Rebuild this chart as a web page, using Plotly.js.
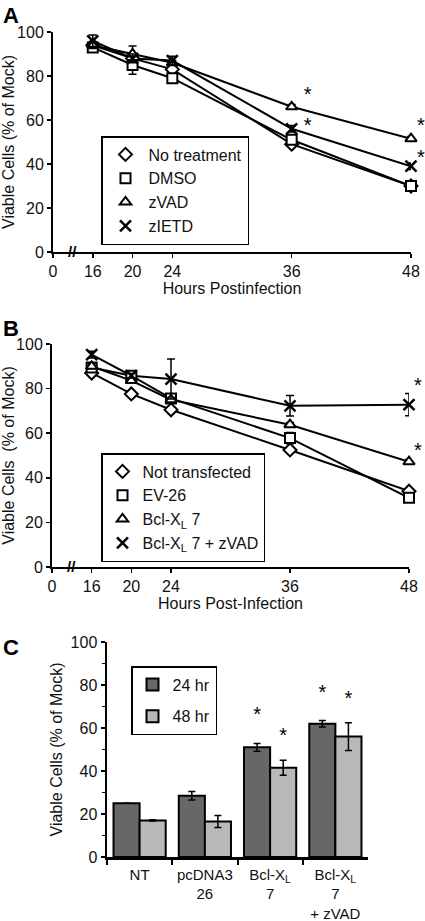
<!DOCTYPE html>
<html><head><meta charset="utf-8">
<script src="https://cdn.plot.ly/plotly-3.0.1.min.js"></script>
<style>html,body{margin:0;padding:0;background:#fff}</style>
</head><body><div id="chart" style="width:425px;height:921px"></div>
<script>
// ---------- Panel A data ----------
const hoursA = [16, 20, 24, 36, 48];
const noTreatment = [94, 88, 83, 49, 30];
const dmso = [93, 85, 79, 51, 30];
const zvad = [94, 90, 86, 66, 51.5];
const zietd = [96, 88, 87, 56, 39];
const errNoTreatment = [1, 1, 1, 1, 1];
const errDmso = [1.5, 4.2, 1, 1.5, 1];
const errZvad = [1.5, 3.6, 1, 1, 1];
const errZietd = [2.6, 2, 2, 1.5, 1.5];
const starsAx = [37.6, 37.6, 49, 49];
const starsAy = [71, 57, 57, 42.5];

// ---------- Panel B data ----------
const hoursB = [16, 20, 24, 36, 48];
const notTransfected = [87, 77.6, 70.5, 52.5, 34];
const ev26 = [89.5, 85.8, 75.6, 57.8, 31];
const bclxl7 = [90, 83.6, 75, 63.8, 47.2];
const bclxl7zvad = [95.2, 85.8, 84.3, 72.3, 72.8];
const errNotTransfected = [1, 1, 1, 1, 1];
const errEv26 = [1, 1, 1.5, 2.5, 1];
const errBclxl7 = [1, 1, 1, 1, 1];
const errBclxl7zvad = [1.5, 1, 9, 4.6, 5];
const starsBx = [48.9, 48.9];
const starsBy = [80.8, 51.4];

const hourTickVals = [12, 16, 20, 24, 36, 48];
const hourTickText = ['0', '16', '20', '24', '36', '48'];

// ---------- Panel C data ----------
const groupsC = ['NT', 'pcDNA3<br>26', 'Bcl-X<sub>L</sub><br>7', 'Bcl-X<sub>L</sub><br>7<br>+ zVAD'];
const hr24 = [25, 28.5, 51, 62];
const hr48 = [17, 16.5, 41.5, 56];
const err24 = [0, 2, 1.8, 1.5];
const err48 = [0.3, 2.8, 3.5, 6.5];
const starsCgroup = [2, 2, 3, 3];
const starsCseries = [0, 1, 0, 1];
const starsCy = [65.5, 56, 76, 73];

const FONT = 'Liberation Sans, Arial, Helvetica, sans-serif';
const TXT = '#111';

function lineTrace(x, y, xa, ya) {
  return {x: x, y: y, xaxis: xa, yaxis: ya, mode: 'lines', showlegend: false,
    line: {color: '#000', width: 2}, hoverinfo: 'skip', cliponaxis: false};
}
function markerTrace(name, x, y, err, symbol, xa, ya, legend) {
  const isX = symbol === 'x-thin';
  return {x: x, y: y, xaxis: xa, yaxis: ya, mode: 'markers', name: name, legend: legend,
    cliponaxis: false,
    error_y: {type: 'data', array: err, visible: true, color: '#000', thickness: 1.5, width: 4},
    marker: {symbol: symbol, size: isX ? 11 : 10, color: '#fff',
      line: {color: '#000', width: isX ? 2.5 : 2}}};
}
function starTrace(x, y, xa, ya) {
  return {x: x, y: y, xaxis: xa, yaxis: ya, mode: 'text', text: x.map(() => '*'),
    textposition: 'middle center', textfont: {family: FONT, size: 20, color: '#000'},
    showlegend: false, cliponaxis: false, hoverinfo: 'skip'};
}

const seriesA = [[noTreatment, errNoTreatment, 'No treatment', 'diamond'],
 [dmso, errDmso, 'DMSO', 'square'],
 [zvad, errZvad, 'zVAD', 'triangle-up'],
 [zietd, errZietd, 'zIETD', 'x-thin']];
const seriesB = [[notTransfected, errNotTransfected, 'Not transfected', 'diamond'],
 [ev26, errEv26, 'EV-26', 'square'],
 [bclxl7, errBclxl7, 'Bcl-X<sub>L</sub> 7', 'triangle-up'],
 [bclxl7zvad, errBclxl7zvad, 'Bcl-X<sub>L</sub> 7 + zVAD', 'x-thin']];

const traces = [];
// Panel A
seriesA.forEach(s => traces.push(lineTrace(hoursA, s[0], 'x', 'y')));
seriesA.forEach(s => traces.push(markerTrace(s[2], hoursA, s[0], s[1], s[3], 'x', 'y', 'legend')));
traces.push(starTrace(starsAx, starsAy, 'x5', 'y'));
// Panel B
seriesB.forEach(s => traces.push(lineTrace(hoursB, s[0], 'x2', 'y2')));
seriesB.forEach(s => traces.push(markerTrace(s[2], hoursB, s[0], s[1], s[3], 'x2', 'y2', 'legend2')));
traces.push(starTrace(starsBx, starsBy, 'x6', 'y2'));
// Panel C
traces.push({type: 'bar', x: groupsC, y: hr24, name: '24 hr', xaxis: 'x3', yaxis: 'y3',
  legend: 'legend3', legendgroup: 'g24',
  marker: {color: '#676767', line: {color: '#000', width: 2}},
  error_y: {type: 'data', array: err24, visible: true, color: '#000', thickness: 1.5, width: 3.5}});
traces.push({type: 'bar', x: groupsC, y: hr48, name: '48 hr', xaxis: 'x3', yaxis: 'y3',
  legend: 'legend3', legendgroup: 'g48',
  marker: {color: '#b9b9b9', line: {color: '#000', width: 2}},
  error_y: {type: 'data', array: err48, visible: true, color: '#000', thickness: 1.5, width: 3.5}});
const starsCx = starsCgroup.map((g, i) => g + (starsCseries[i] === 0 ? -0.2 : 0.2));
traces.push(starTrace(starsCx, starsCy, 'x4', 'y3'));

const W = 425, H = 921;
const px = (a, b) => [a / W, b / W];
const py = (top, bottom) => [1 - bottom / H, 1 - top / H];

// wider invisible axes (same scale) so the asterisks right of 48 h are drawn
const aL = 53, aR = 411, bL = 52, bR = 409, extR = 424;
const extRange = (l, r) => [12, 12 + (extR - l) * 36 / (r - l)];

const baseAxis = {showline: true, linecolor: '#000', linewidth: 2, ticks: 'outside', ticklen: 4,
  tickwidth: 1.5, tickcolor: '#000', showgrid: false, zeroline: false,
  tickfont: {family: FONT, size: 16, color: TXT}};
const titleFont = {family: FONT, size: 16, color: TXT};

const legendBase = {font: {family: FONT, size: 16, color: TXT}, bgcolor: '#fff',
  bordercolor: '#000', borderwidth: 1.5, xanchor: 'left', yanchor: 'top', itemclick: false};

const layout = {
  width: W, height: H, margin: {l: 0, r: 0, t: 0, b: 0},
  paper_bgcolor: '#fff', plot_bgcolor: 'rgba(0,0,0,0)',
  font: {family: FONT, size: 16, color: TXT},
  barmode: 'group', bargap: 0.2, bargroupgap: 0,
  xaxis: Object.assign({}, baseAxis, {domain: px(aL, aR), anchor: 'y', range: [12, 48],
    tickmode: 'array', tickvals: hourTickVals, ticktext: hourTickText,
    title: {text: 'Hours Postinfection', font: titleFont, standoff: 4}}),
  yaxis: Object.assign({}, baseAxis, {domain: py(32, 252), anchor: 'x', range: [0, 100], dtick: 20,
    title: {text: 'Viable Cells (% of Mock)', font: titleFont, standoff: 1}}),
  xaxis5: {domain: px(aL, extR), anchor: 'y', range: extRange(aL, aR), visible: false},
  xaxis2: Object.assign({}, baseAxis, {domain: px(bL, bR), anchor: 'y2', range: [12, 48],
    tickmode: 'array', tickvals: hourTickVals, ticktext: hourTickText,
    title: {text: 'Hours Post-Infection', font: titleFont, standoff: 4}}),
  yaxis2: Object.assign({}, baseAxis, {domain: py(344, 567), anchor: 'x2', range: [0, 100], dtick: 20,
    title: {text: 'Viable Cells&#160; (% of Mock)', font: titleFont, standoff: 1}}),
  xaxis6: {domain: px(bL, extR), anchor: 'y2', range: extRange(bL, bR), visible: false},
  xaxis3: Object.assign({}, baseAxis, {domain: px(107, 368), anchor: 'y3', type: 'category',
    range: [-0.5, 3.5], tickson: 'boundaries', ticklen: 5, linewidth: 2.5, tickwidth: 2,
    tickangle: 0, ticklabelstandoff: 2, tickfont: {family: FONT, size: 15, color: TXT}}),
  yaxis3: Object.assign({}, baseAxis, {domain: py(642, 857), anchor: 'x3', range: [0, 100], dtick: 20,
    linewidth: 2.5, tickwidth: 2,
    minor: {dtick: 10, ticks: 'outside', ticklen: 3, tickwidth: 1.5, tickcolor: '#000'},
    title: {text: 'Viable Cells (% of Mock)', font: titleFont, standoff: 4}}),
  xaxis4: {domain: px(107, 368), anchor: 'y3', overlaying: 'x3', range: [-0.5, 3.5], visible: false},
  legend: Object.assign({}, legendBase, {x: 101 / W, y: 1 - 136 / H, itemwidth: 36}),
  legend2: Object.assign({}, legendBase, {x: 101 / W, y: 1 - 453 / H}),
  legend3: Object.assign({}, legendBase, {x: 131 / W, y: 1 - 666 / H, traceorder: 'grouped', tracegroupgap: 8}),
  annotations: [
    {text: '<b>A</b>', xref: 'paper', yref: 'paper', x: 0.002, y: 1 - 1 / H, xanchor: 'left', yanchor: 'top',
      showarrow: false, font: {family: FONT, size: 22, color: '#000'}},
    {text: '<b>B</b>', xref: 'paper', yref: 'paper', x: 0.002, y: 1 - 314 / H, xanchor: 'left', yanchor: 'top',
      showarrow: false, font: {family: FONT, size: 22, color: '#000'}},
    {text: '<b>C</b>', xref: 'paper', yref: 'paper', x: 0.002, y: 1 - 633 / H, xanchor: 'left', yanchor: 'top',
      showarrow: false, font: {family: FONT, size: 22, color: '#000'}},
    {text: '<b>//</b>', xref: 'x', yref: 'y', x: 14, y: 0, yshift: 1, showarrow: false,
      font: {family: FONT, size: 15, color: '#000'}},
    {text: '<b>//</b>', xref: 'x2', yref: 'y2', x: 14, y: 0, yshift: 1, showarrow: false,
      font: {family: FONT, size: 15, color: '#000'}}
  ]
};

Plotly.newPlot('chart', traces, layout, {staticPlot: true, displayModeBar: false});
</script>
</body></html>
